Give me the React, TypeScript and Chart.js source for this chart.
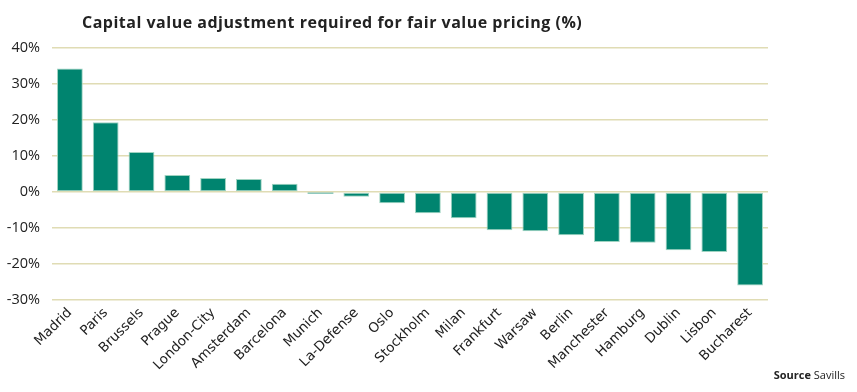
import React, { useEffect, useRef } from "react";
import { Chart, registerables } from "chart.js";

Chart.register(...registerables);

const cities = [
  "Madrid", "Paris", "Brussels", "Prague", "London-City", "Amsterdam", "Barcelona",
  "Munich", "La-Defense", "Oslo", "Stockholm", "Milan", "Frankfurt", "Warsaw",
  "Berlin", "Manchester", "Hamburg", "Dublin", "Lisbon", "Bucharest",
];
const adjustment = [
  34.3, 19.4, 11.1, 4.7, 3.9, 3.6, 2.3,
  -0.4, -1.3, -3.1, -5.9, -7.3, -10.6, -10.9,
  -12.0, -13.9, -14.1, -16.2, -16.7, -26.0,
];
const yMin = -30;
const yMax = 40;
const yStep = 10;

const FONT = "'Open Sans', 'DejaVu Sans', sans-serif";
const WIDE = "'DejaVu Sans', 'Open Sans', sans-serif";

export default function App() {
  const ref = useRef<HTMLCanvasElement | null>(null);

  useEffect(() => {
    document.body.style.margin = "0";
    const canvas = ref.current;
    if (!canvas) return;
    const chart = new Chart(canvas, {
      type: "bar",
      data: {
        labels: cities,
        datasets: [
          {
            data: adjustment,
            backgroundColor: "#00846f",
            borderColor: "#9fd3c1",
            borderWidth: (c: any) => (Math.abs(c.raw) < 1 ? 0 : 1),
            borderSkipped: false,
            barPercentage: 0.72,
            categoryPercentage: 1,
          },
        ],
      },
      options: {
        responsive: false,
        animation: false,
        layout: { padding: { top: 48, right: 89, left: 0, bottom: 0 } },
        plugins: {
          legend: { display: false },
          tooltip: { enabled: false },
          title: { display: false },
        },
        scales: {
          x: {
            grid: { display: false, drawTicks: false },
            border: { display: false },
            ticks: {
              color: "#222",
              font: { family: WIDE, size: 13.5 },
              maxRotation: 45,
              minRotation: 45,
              padding: 5,
              autoSkip: false,
            },
            afterFit: (s: any) => {
              s.height = 92;
            },
          },
          y: {
            min: yMin,
            max: yMax,
            grid: { color: "#e0dcb4", lineWidth: 1.5, drawTicks: false },
            border: { display: false },
            ticks: {
              stepSize: yStep,
              color: "#222",
              font: { family: FONT, size: 14.5 },
              padding: 12,
              callback: (v: any) => `${v}%`,
            },
            afterFit: (s: any) => {
              s.width = 52;
            },
          },
        },
      },
    });
    return () => chart.destroy();
  }, []);

  return (
    <div style={{ position: "relative", width: 857, height: 392, background: "#fff" }}>
      <canvas ref={ref} width={857} height={392} style={{ display: "block" }} />
      <div
        style={{
          position: "absolute",
          left: 82,
          top: 11,
          fontFamily: FONT,
          fontWeight: 700,
          fontSize: 16,
          letterSpacing: 0.5,
          color: "#222",
          whiteSpace: "nowrap",
        }}
      >
        Capital value adjustment required for fair value pricing (%)
      </div>
      <div
        style={{
          position: "absolute",
          right: 12,
          top: 367,
          fontFamily: FONT,
          fontSize: 11,
          color: "#222",
          whiteSpace: "nowrap",
        }}
      >
        <b>Source</b> Savills
      </div>
    </div>
  );
}
